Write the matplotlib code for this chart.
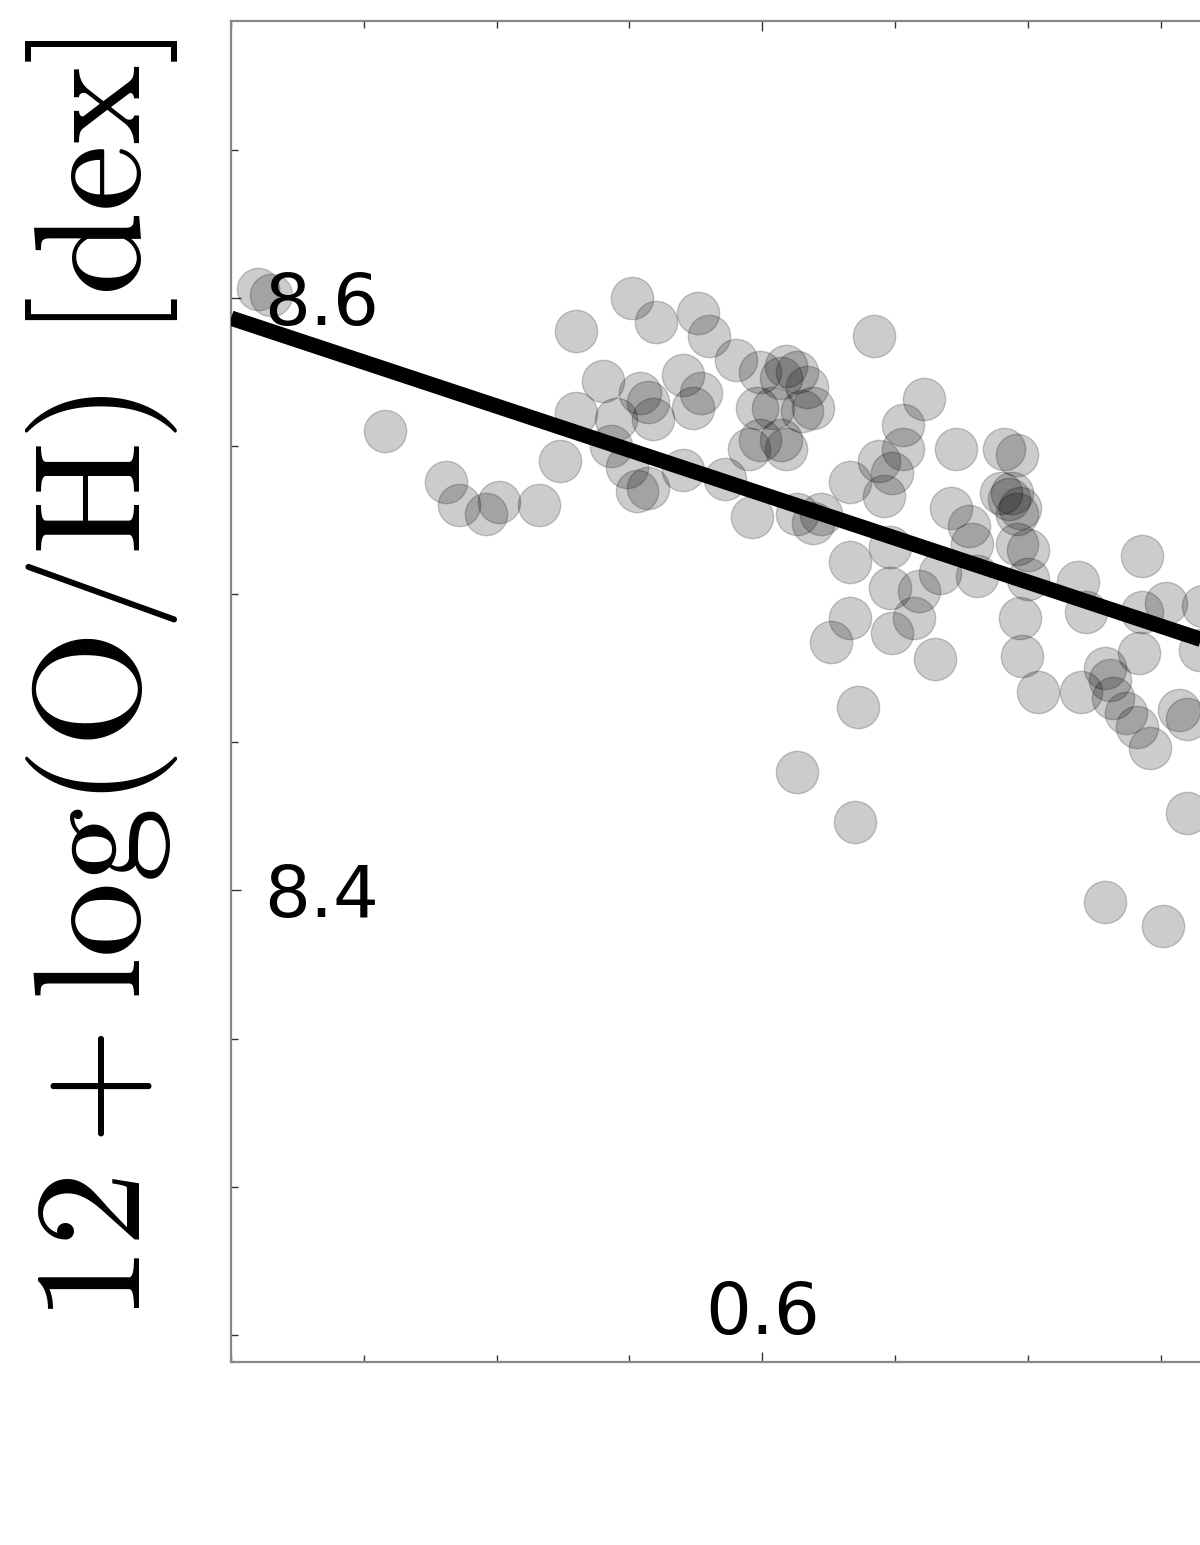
import matplotlib
matplotlib.use("Agg")
import matplotlib.pyplot as plt
from matplotlib.ticker import MultipleLocator, FixedLocator

# scatter points
ratio = [0.410, 0.415, 0.458, 0.481, 0.486, 0.496, 0.501, 0.516, 0.524, 0.530,
         0.530, 0.540, 0.545, 0.543, 0.551, 0.560, 0.576, 0.580, 0.590, 0.570,
         0.577, 0.554, 0.557, 0.559, 0.574, 0.549, 0.553, 0.557, 0.570, 0.586,
         0.596, 0.599, 0.609, 0.607, 0.613, 0.617, 0.598, 0.604, 0.615, 0.599,
         0.595, 0.607, 0.609, 0.619, 0.613, 0.619, 0.622, 0.633, 0.642, 0.661,
         0.653, 0.653, 0.644, 0.649, 0.646, 0.673, 0.691, 0.696, 0.671, 0.678,
         0.694, 0.690, 0.697, 0.743, 0.679, 0.696, 0.700, 0.648, 0.681, 0.667,
         0.648, 0.659, 0.657, 0.649, 0.633, 0.665, 0.719, 0.700, 0.697, 0.698,
         0.704, 0.720, 0.722, 0.743, 0.752, 0.742, 0.729, 0.731, 0.732, 0.737,
         0.741, 0.746, 0.757, 0.760, 0.765, 0.766, 0.636, 0.760, 0.635, 0.613,
         0.729, 0.751, 0.633, 0.626, 0.693, 0.696]
oh = [8.603, 8.601, 8.555, 8.538, 8.530, 8.527, 8.531, 8.530, 8.545, 8.589,
      8.561, 8.572, 8.559, 8.550, 8.600, 8.592, 8.595, 8.587, 8.579, 8.574,
      8.568, 8.568, 8.565, 8.559, 8.563, 8.543, 8.535, 8.536, 8.542, 8.539,
      8.526, 8.575, 8.577, 8.573, 8.575, 8.570, 8.563, 8.563, 8.562, 8.552,
      8.549, 8.552, 8.549, 8.563, 8.527, 8.524, 8.527, 8.538, 8.587, 8.566,
      8.557, 8.549, 8.545, 8.541, 8.533, 8.549, 8.549, 8.547, 8.529, 8.523,
      8.534, 8.534, 8.529, 8.513, 8.517, 8.517, 8.515, 8.516, 8.506, 8.507,
      8.502, 8.501, 8.492, 8.487, 8.492, 8.478, 8.504, 8.505, 8.492, 8.479,
      8.467, 8.467, 8.494, 8.494, 8.497, 8.480, 8.475, 8.471, 8.465, 8.460,
      8.455, 8.448, 8.461, 8.458, 8.481, 8.496, 8.462, 8.426, 8.423, 8.440,
      8.396, 8.388, 8.511, 8.484, 8.532, 8.527]

# linear fit
fit_intercept = 8.712
fit_slope = -0.297
fit_x = [0.4, 1.0]

xlim = (0.4, 1.0)
ylim = (8.2408, 8.6935)

plt.rcParams['mathtext.fontset'] = 'cm'

W, H = 1200, 1545
fig = plt.figure(figsize=(W / 100, H / 100), dpi=100)
ax_left, ax_top, ax_bottom = 231, 21, 1362
ax_w = (xlim[1] - xlim[0]) * 2656
ax = fig.add_axes([ax_left / W, 1 - ax_bottom / H, ax_w / W, (ax_bottom - ax_top) / H])

ax.scatter(ratio, oh, s=930, c='k', alpha=0.2, linewidths=1, zorder=2)
fit_y = [fit_intercept + fit_slope * v for v in fit_x]
ax.plot(fit_x, fit_y, color='k', lw=11, solid_capstyle='butt', zorder=3)

ax.set_xlim(*xlim)
ax.set_ylim(*ylim)

# only the 0.6 label falls inside the visible part of the figure
ax.xaxis.set_major_locator(FixedLocator([0.6]))
ax.xaxis.set_minor_locator(MultipleLocator(0.05))
ax.yaxis.set_major_locator(FixedLocator([8.4, 8.6]))
ax.yaxis.set_minor_locator(MultipleLocator(0.05))

for s in ax.spines.values():
    s.set_color('#888888')
    s.set_linewidth(1.6)

ax.tick_params(which='both', direction='in', top=True, right=True, color='#333333')
ax.tick_params(which='major', length=7, width=1, labelsize=52)
ax.tick_params(which='minor', length=5, width=1)
ax.tick_params(axis='y', which='major', pad=-24)
ax.tick_params(axis='x', which='major', pad=-20)
for t in ax.get_yticklabels():
    t.set_horizontalalignment('left')
for t in ax.get_xticklabels():
    t.set_verticalalignment('baseline')

fig.text(102 / W, 1 - 680 / H, r'$12+\log(\mathrm{O/H})\ [\mathrm{dex}]$',
         rotation=90, ha='center', va='center', fontsize=109)

fig.savefig('out.png', dpi=100)
